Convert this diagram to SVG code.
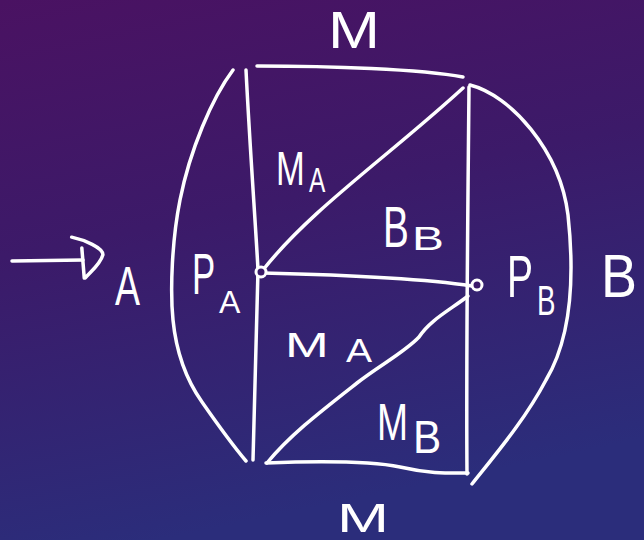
<svg xmlns="http://www.w3.org/2000/svg" width="644" height="540" viewBox="0 0 644 540">
  <defs>
    <linearGradient id="bg" x1="0" y1="0" x2="0.25" y2="1">
      <stop offset="0" stop-color="#4a1262"/>
      <stop offset="0.45" stop-color="#3c1a69"/>
      <stop offset="1" stop-color="#2b2d7b"/>
    </linearGradient>
    <marker id="handHead" markerUnits="userSpaceOnUse" viewBox="-16 -28 42 52" markerWidth="42" markerHeight="52" refX="0" refY="0" orient="auto" overflow="visible">
      <path d="M-11,-23 C2,-20 20,-12 20,-5 C17,5 7,12 2,18 M-1,-12 L1,18" fill="none" stroke="#ffffff" stroke-width="3.5" stroke-linecap="round" stroke-linejoin="round"/>
    </marker>
    <style>
      .ln { fill: none; stroke: #ffffff; stroke-width: 3.5; stroke-linecap: round; stroke-linejoin: round; }
      .nd { fill: #3b1a69; stroke: #ffffff; stroke-width: 3; }
      .lb { fill: #ffffff; font-family: "Liberation Sans", Arial, sans-serif; }
    </style>
  </defs>
  <rect x="0" y="0" width="644" height="540" fill="url(#bg)"/>

  <g id="connectors">
    <path class="ln" d="M12,261 L83,260" marker-end="url(#handHead)"/>
    <path class="ln" d="M257,66 C330,66 420,69 463,77"/>
    <path class="ln" d="M246,70 C250,150 256,230 258,270 C257,330 254,400 253,460"/>
    <path class="ln" d="M233,70 C212,98 190,150 180,200 C172,240 170,290 173,320 C177,360 190,385 202,402 C218,425 235,448 246,461"/>
    <path class="ln" d="M469,87 C468,200 466,350 467,474"/>
    <path class="ln" d="M470,85 C510,95 560,150 568,215 C575,280 570,340 546,380 C525,420 495,455 472,484"/>
    <path class="ln" d="M463,88 C390,155 310,210 263,270"/>
    <path class="ln" d="M263,273 C350,275 420,278 472,286"/>
    <path class="ln" d="M468,296 C450,310 430,320 419,337 C405,352 380,365 357,383 C320,412 290,435 267,463"/>
    <path class="ln" d="M266,463 C320,461 370,461 400,467 C430,474 450,473 468,473"/>
  </g>

  <g id="node-PA">
    <circle class="nd" cx="261" cy="272" r="5"/>
    <text class="lb" transform="translate(192,294) scale(0.6,1)" font-size="58">P</text>
    <text class="lb" transform="translate(219,313)" font-size="32">A</text>
  </g>

  <g id="node-PB">
    <circle class="nd" cx="477" cy="285" r="5"/>
    <text class="lb" transform="translate(507,297) scale(0.65,1)" font-size="60">P</text>
    <text class="lb" transform="translate(537,315) scale(0.66,1)" font-size="42">B</text>
  </g>

  <g id="labels">
    <text class="lb" x="328" y="48" font-size="52" textLength="52" lengthAdjust="spacingAndGlyphs">M</text>
    <text class="lb" transform="translate(276,185) scale(0.72,1)" font-size="48">M</text>
    <text class="lb" transform="translate(309,192) scale(0.7,1)" font-size="35">A</text>
    <text class="lb" transform="translate(383,247) scale(0.68,1)" font-size="57">B</text>
    <text class="lb" transform="translate(412,250) scale(1.45,1)" font-size="33">B</text>
    <text class="lb" x="115" y="305" font-size="55" textLength="25" lengthAdjust="spacingAndGlyphs">A</text>
    <text class="lb" x="601" y="297" font-size="62" textLength="36" lengthAdjust="spacingAndGlyphs">B</text>
    <text class="lb" transform="translate(285,357) scale(1.5,1)" font-size="35">M</text>
    <text class="lb" transform="translate(346,362) scale(1.15,1)" font-size="34">A</text>
    <text class="lb" transform="translate(377,440) scale(0.73,1)" font-size="51">M</text>
    <text class="lb" transform="translate(413,453) scale(0.9,1)" font-size="47">B</text>
    <text class="lb" x="337" y="532" font-size="40" textLength="52" lengthAdjust="spacingAndGlyphs">M</text>
  </g>
</svg>
